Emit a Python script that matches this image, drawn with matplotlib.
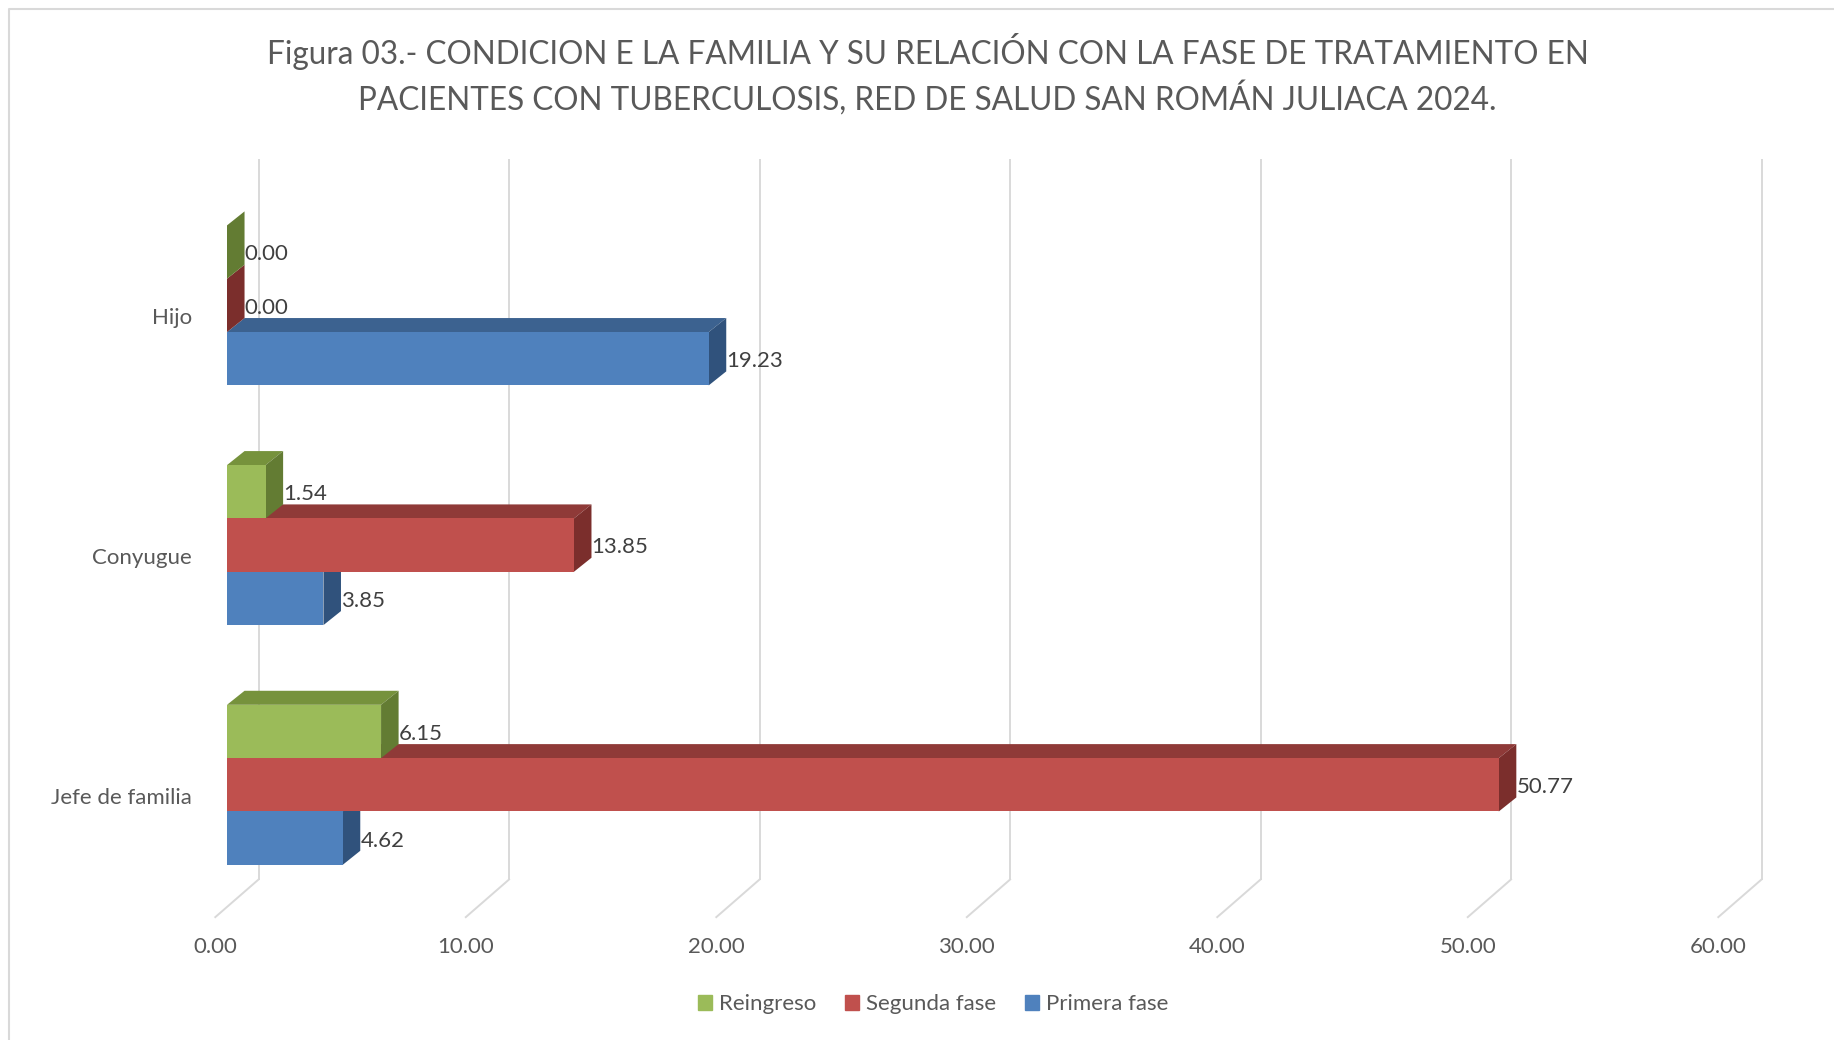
import matplotlib
matplotlib.use("Agg")
import matplotlib.pyplot as plt
from matplotlib.patches import Patch
from matplotlib.lines import Line2D

plt.rcParams['font.family'] = ['Lato', 'DejaVu Sans']

# data
categories = ['Jefe de familia', 'Conyugue', 'Hijo']
primera_fase = [4.62, 3.85, 19.23]
segunda_fase = [50.77, 13.85, 0.00]
reingreso = [6.15, 1.54, 0.00]
x_ticks = [0, 10, 20, 30, 40, 50, 60]

title_lines = ['Figura 03.- CONDICION E LA FAMILIA Y SU RELACIÓN CON LA FASE DE TRATAMIENTO EN',
               'PACIENTES CON TUBERCULOSIS, RED DE SALUD SAN ROMÁN JULIACA 2024.']

# series: (label, values, front, top, side, offset in bar heights)
series = [
    ('Primera fase', primera_fase, '#4F81BD', '#3C6290', '#30527C', -1),
    ('Segunda fase', segunda_fase, '#C0504D', '#8F3A38', '#7B2E2C', 0),
    ('Reingreso', reingreso, '#9BBB59', '#76923C', '#637C33', 1),
]

W, H = 1834, 1040
fig = plt.figure(figsize=(W / 100, H / 100), dpi=100)

# axes placed so that x=0 of the bar front plane sits at ~227 px
px_unit_x = 25.05
px_unit_y = 239.7
x0_px, y0_px = 227, 784.8
xlim = (-2, 62)
ylim = (-0.75, 2.7)
left = (x0_px + xlim[0] * px_unit_x) / W
width = (xlim[1] - xlim[0]) * px_unit_x / W
bottom = 1 - (y0_px - ylim[0] * px_unit_y) / H
height = (ylim[1] - ylim[0]) * px_unit_y / H
ax = fig.add_axes([left, bottom, width, height])
ax.set_xlim(*xlim)
ax.set_ylim(*ylim)
ax.axis('off')

fs = 16
grid_c = '#D9D9D9'
back_dx = 1.26
front_dx = -0.467
wall_top, wall_bot, floor_front = 2.606, -0.395, -0.552
for v in x_ticks:
    ax.plot([v + back_dx, v + back_dx], [wall_bot, wall_top], color=grid_c, lw=1.4, zorder=0)
    ax.plot([v + back_dx, v + front_dx], [wall_bot, floor_front], color=grid_c, lw=1.4, zorder=0)
    ax.text(v + front_dx, -0.678, f'{v:.2f}', ha='center', va='center',
            fontsize=fs, color='#595959')

bar_h = 0.2225
dx, dy = 0.70, 0.0585
ypos = list(range(len(categories)))

z = 2
for label, vals, c_front, c_top, c_side, off in series:
    yc = [y + off * bar_h for y in ypos]
    for y, v in zip(yc, vals):
        top = y + bar_h / 2
        bot = y - bar_h / 2
        ax.fill([0, v, v + dx, dx], [top, top, top + dy, top + dy], color=c_top, lw=0, zorder=z)
        ax.fill([v, v, v + dx, v + dx], [bot, top, top + dy, bot + dy], color=c_side, lw=0, zorder=z)
        ax.text(v + dx, y - 0.01, f'{v:.2f}', ha='left', va='center', fontsize=fs,
                color='#404040', zorder=10)
    ax.barh(yc, vals, height=bar_h, color=c_front, lw=0, zorder=z + 0.5)
    z += 1

for y, cat in zip(ypos, categories):
    ax.text(-1.405, y - 0.054, cat, ha='right', va='center', fontsize=fs, color='#595959')

fig.text(927.5 / W, 1 - 64.3 / H, title_lines[0], ha='center', va='baseline',
         fontsize=22.7, color='#595959')
fig.text(927.5 / W, 1 - 109.8 / H, title_lines[1], ha='center', va='baseline',
         fontsize=22.7, color='#595959')

handles = [Patch(color=s[2], label=s[0]) for s in series[::-1]]
fig.legend(handles=handles, loc='center', bbox_to_anchor=(933 / W, 1 - 1004.5 / H),
           ncol=3, frameon=False, fontsize=fs, handlelength=0.65, handleheight=0.65,
           handletextpad=0.3, columnspacing=1.3, labelcolor='#595959')

# chart area border (only top and left visible)
fig.add_artist(Line2D([9 / W, 9 / W, 1], [0, 1 - 9 / H, 1 - 9 / H],
                      transform=fig.transFigure, color=grid_c, lw=1.5))

fig.savefig('out.png', dpi=100)
